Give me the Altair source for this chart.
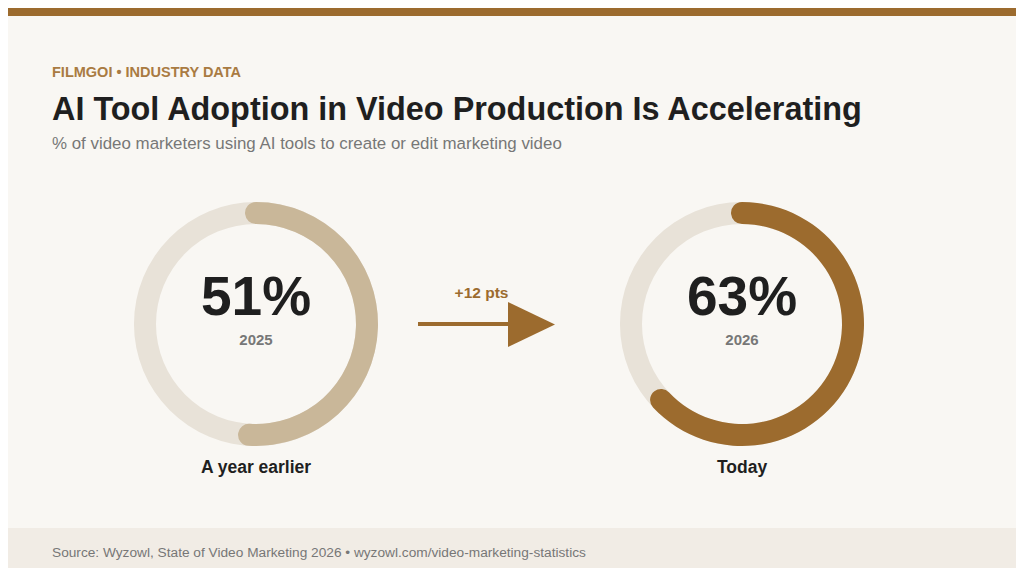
import math
import altair as alt
import pandas as pd

# ---- data ----
years = ["2025", "2026"]
shares = [51, 63]
captions = ["A year earlier", "Today"]
kicker = "FILMGOI • INDUSTRY DATA"
title = "AI Tool Adoption in Video Production Is Accelerating"
subtitle = "% of video marketers using AI tools to create or edit marketing video"
source = "Source: Wyzowl, State of Video Marketing 2026 • wyzowl.com/video-marketing-statistics"
delta_label = f"+{shares[1] - shares[0]} pts"

# ---- style ----
W, H = 1008, 560          # page is 1024x576 with an 8px margin
O = 8                      # page -> chart offset
FONT = "Liberation Sans"
BG = "#f9f7f3"
FOOT_BG = "#f1ece5"
ACCENT = "#9c6b2e"
KICK = "#a97b42"
LIGHT = "#c9b799"
TRACK = "#e8e2d8"
DARK = "#1f1f1f"
GREY = "#777777"

one = pd.DataFrame({"k": [0]})


def px(v):
    return v - O


def box(x, x2, y, y2, color):
    return alt.Chart(one).mark_rect(color=color).encode(
        x=alt.value(x), x2=alt.value(x2), y=alt.value(y), y2=alt.value(y2)
    )


def label(txt, x, y, size, color, weight="normal", align="left"):
    return alt.Chart(one).mark_text(
        text=txt, align=align, baseline="alphabetic", font=FONT,
        fontSize=size, fontWeight=weight, color=color
    ).encode(x=alt.value(px(x)), y=alt.value(px(y)))


theta_scale = alt.Scale(domain=[0, 100], range=[0, 2 * math.pi])
R_OUT, R_IN = 122, 100
CAP = (R_OUT - R_IN) / 2 / ((R_OUT + R_IN) / 2) / (2 * math.pi) * 100


def donut(i, cx, cy, color):
    v = shares[i]
    cx, cy = px(cx), px(cy)
    track = alt.Chart(pd.DataFrame({"s": [0], "e": [100]})).mark_arc(
        innerRadius=R_IN, outerRadius=R_OUT, color=TRACK
    ).encode(
        theta=alt.Theta("s:Q", scale=theta_scale, stack=None),
        theta2="e:Q", x=alt.value(cx), y=alt.value(cy)
    )
    arc = alt.Chart(pd.DataFrame({"s": [0 - CAP], "e": [v + CAP]})).mark_arc(
        innerRadius=R_IN, outerRadius=R_OUT, cornerRadius=(R_OUT - R_IN) / 2, color=color
    ).encode(
        theta=alt.Theta("s:Q", scale=theta_scale, stack=None),
        theta2="e:Q", x=alt.value(cx), y=alt.value(cy)
    )
    big = alt.Chart(pd.DataFrame({"t": [f"{v}%"]})).mark_text(
        align="center", baseline="alphabetic", font=FONT, fontSize=55,
        fontWeight="bold", color=DARK
    ).encode(text="t:N", x=alt.value(cx), y=alt.value(cy - 9))
    yr = alt.Chart(pd.DataFrame({"t": [years[i]]})).mark_text(
        align="center", baseline="alphabetic", font=FONT, fontSize=15,
        fontWeight="bold", color=GREY
    ).encode(text="t:N", x=alt.value(cx), y=alt.value(cy + 21))
    cap = alt.Chart(pd.DataFrame({"t": [captions[i]]})).mark_text(
        align="center", baseline="alphabetic", font=FONT, fontSize=17.5,
        fontWeight="bold", color=DARK
    ).encode(text="t:N", x=alt.value(cx), y=alt.value(cy + 149))
    return [track, arc, big, yr, cap]


layers = [
    box(0, W, 0, 8, ACCENT),
    box(0, W, px(528), H, FOOT_BG),
    label(kicker, 52, 76.5, 14.5, KICK, "bold"),
    label(title, 52, 119.5, 32.4, DARK, "bold"),
    label(subtitle, 52, 149, 16.9, GREY),
    label(source, 52, 557, 13.7, GREY),
]
layers += donut(0, 256, 324, LIGHT)
layers += donut(1, 742, 324, ACCENT)

# arrow between the donuts
shaft = alt.Chart(one).mark_rule(color=ACCENT, strokeWidth=4).encode(
    x=alt.value(px(418)), x2=alt.value(px(512)), y=alt.value(px(324))
)
head = alt.Chart(one).mark_point(
    shape="M-1,-0.96L1,0L-1,0.96Z", filled=True, color=ACCENT, opacity=1,
    size=47 * 47, strokeWidth=0
).encode(x=alt.value(px(531.5)), y=alt.value(px(324.5)))
delta = label(delta_label, 481.5, 298, 15.5, ACCENT, "bold", align="center")
layers += [shaft, head, delta]

chart = alt.layer(*layers).properties(
    width=W, height=H, autosize="none", padding=0, background=BG,
).configure_view(stroke=None)

chart.save("out.html", embed_options={"renderer": "svg", "actions": False})
